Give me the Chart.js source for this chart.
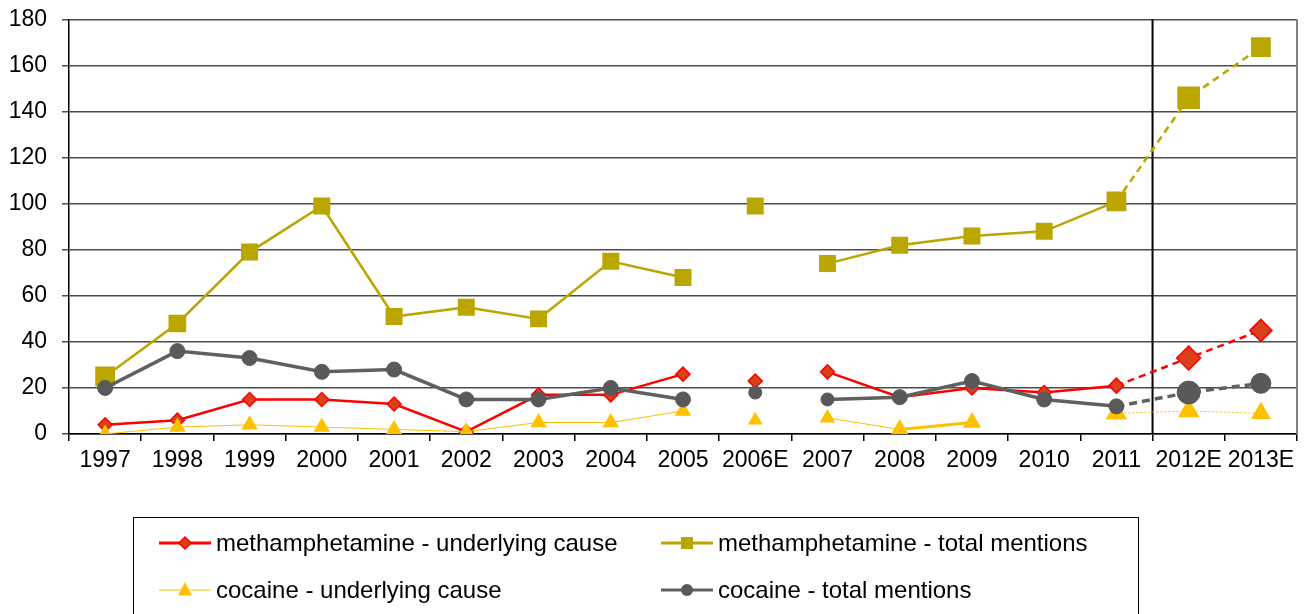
<!DOCTYPE html>
<html>
<head>
<meta charset="utf-8">
<script src="https://cdn.jsdelivr.net/npm/chart.js@4.4.1/dist/chart.umd.min.js"></script>
<style>
  html, body { margin: 0; padding: 0; background: #fff; }
</style>
</head>
<body>
<canvas id="chart" width="1311" height="614"></canvas>
<script>
const years = ['1997', '1998', '1999', '2000', '2001', '2002', '2003', '2004', '2005',
  '2006E', '2007', '2008', '2009', '2010', '2011', '2012E', '2013E'];

const methCause = [4, 6, 15, 15, 13, 1, 17, 17, 26, 23, 27, 16, 20, 18, 21, 33, 45];
const methTotal = [25, 48, 79, 99, 51, 55, 50, 75, 68, 99, 74, 82, 86, 88, 101, 146, 168];
const cocCause  = [0, 3, 4, 3, 2, 1, 5, 5, 10, 6, 7, 2, 5, null, 9, 10, 9];
const cocTotal  = [20, 36, 33, 27, 28, 15, 15, 20, 15, 18, 15, 16, 23, 15, 12, 18, 22];

const yTicks = [0, 20, 40, 60, 80, 100, 120, 140, 160, 180];

const labels = [
  'methamphetamine - underlying cause',
  'methamphetamine - total mentions',
  'cocaine - underlying cause',
  'cocaine - total mentions'
];

const FONT = '"Liberation Sans", Arial, sans-serif';
const ISOLATED = 9;   // 2006E stands alone
const LAST_ACTUAL = 14; // 2011, estimates after it

// segments: hide the ones touching 2006E, dash the estimates
function seg(dash, extra) {
  return {
    borderColor: c => (c.p0DataIndex === ISOLATED || c.p1DataIndex === ISOLATED) ? 'rgba(0,0,0,0)' : undefined,
    borderDash: c => c.p0DataIndex >= LAST_ACTUAL ? dash : undefined,
    borderWidth: extra
  };
}

const data = {
  labels: years,
  datasets: [
    {
      label: labels[0],
      data: methCause,
      borderColor: '#FF0000',
      borderWidth: 2.5,
      backgroundColor: '#D9411A',
      pointBackgroundColor: '#D9411A',
      pointBorderColor: '#FF0000',
      pointBorderWidth: 1.5,
      pointStyle: 'rectRot',
      pointRadius: [7, 7, 7, 7, 7, 7, 7, 7, 7, 7, 7, 7, 7, 7, 7.5, 12, 11],
      segment: seg([7, 5]),
      order: 3
    },
    {
      label: labels[1],
      data: methTotal,
      borderColor: '#BBA600',
      borderWidth: 2.5,
      backgroundColor: '#BBA600',
      pointBackgroundColor: '#BBA600',
      pointBorderColor: '#BBA600',
      pointBorderWidth: 0,
      pointStyle: 'rect',
      pointRadius: [14, 12.5, 12, 12, 12, 12, 12, 12, 12, 12, 12, 12, 12, 12, 14, 16, 14],
      segment: seg([7, 5]),
      order: 4
    },
    {
      label: labels[2],
      data: cocCause,
      borderColor: '#FFC000',
      borderWidth: 1,
      backgroundColor: '#FFC000',
      pointBackgroundColor: '#FFC000',
      pointBorderColor: '#FFC000',
      pointBorderWidth: 0,
      pointStyle: 'triangle',
      pointRadius: [9.5, 9.5, 9.5, 9.5, 9.5, 9.5, 9.5, 9.5, 9.5, 8.5, 9, 10.5, 10.5, 10.5, 12.5, 12.5, 11.5],
      spanGaps: false,
      segment: seg([2, 2], c => c.p0DataIndex === 11 ? 3 : undefined),
      order: 2
    },
    {
      label: labels[3],
      data: cocTotal,
      borderColor: '#606060',
      borderWidth: 3.5,
      backgroundColor: '#595959',
      pointBackgroundColor: '#595959',
      pointBorderColor: '#595959',
      pointBorderWidth: 1,
      pointStyle: 'circle',
      pointRadius: [7.5, 7.5, 7.5, 7.5, 7.5, 7.5, 7.5, 7.5, 7.5, 6.5, 6.5, 7.5, 7.5, 7.5, 7.5, 11.5, 10],
      segment: seg([8, 5]),
      order: 1
    }
  ]
};

// vertical divider before the estimates and the right border of the plot
const dividerPlugin = {
  id: 'divider',
  beforeDatasetsDraw(chart) {
    const { ctx, chartArea, scales } = chart;
    const x = (scales.x.getPixelForValue(LAST_ACTUAL) + scales.x.getPixelForValue(LAST_ACTUAL + 1)) / 2;
    ctx.save();
    ctx.strokeStyle = '#000';
    ctx.lineWidth = 2;
    ctx.beginPath();
    ctx.moveTo(x, chartArea.top);
    ctx.lineTo(x, chartArea.bottom);
    ctx.stroke();
    ctx.strokeStyle = '#808080';
    ctx.lineWidth = 2;
    ctx.beginPath();
    ctx.moveTo(chartArea.right, chartArea.top);
    ctx.lineTo(chartArea.right, chartArea.bottom);
    ctx.stroke();
    ctx.restore();
  }
};

function marker(ctx, style, x, y, r) {
  ctx.beginPath();
  if (style === 'rectRot') {
    ctx.moveTo(x, y - r); ctx.lineTo(x + r, y); ctx.lineTo(x, y + r); ctx.lineTo(x - r, y);
    ctx.closePath();
  } else if (style === 'rect') {
    ctx.rect(x - r, y - r, 2 * r, 2 * r);
  } else if (style === 'triangle') {
    ctx.moveTo(x, y - r); ctx.lineTo(x + r * 0.87, y + r * 0.7); ctx.lineTo(x - r * 0.87, y + r * 0.7);
    ctx.closePath();
  } else {
    ctx.arc(x, y, r, 0, Math.PI * 2);
  }
}

// boxed two-column legend below the chart
const legendPlugin = {
  id: 'boxLegend',
  afterDraw(chart) {
    const ctx = chart.ctx;
    const spots = [[159, 543], [661, 543], [159, 590], [661, 590]];
    const lineW = [3, 3, 1, 3];
    const sizes = [6, 6, 8, 6];
    ctx.save();
    ctx.strokeStyle = '#000';
    ctx.lineWidth = 1;
    ctx.strokeRect(133.5, 517.5, 1005, 120);
    chart.data.datasets.forEach((ds, i) => {
      const [x, y] = spots[i];
      ctx.strokeStyle = ds.borderColor;
      ctx.lineWidth = lineW[i];
      ctx.beginPath();
      ctx.moveTo(x, y);
      ctx.lineTo(x + 52, y);
      ctx.stroke();
      marker(ctx, ds.pointStyle, x + 26, y, sizes[i]);
      ctx.fillStyle = ds.pointBackgroundColor;
      ctx.fill();
      if (i === 0) {
        ctx.strokeStyle = '#FF0000';
        ctx.lineWidth = 1.5;
        ctx.stroke();
      }
      ctx.fillStyle = '#000';
      ctx.font = '24px ' + FONT;
      ctx.textBaseline = 'middle';
      ctx.textAlign = 'left';
      ctx.fillText(ds.label, x + 57, y + 1);
    });
    ctx.restore();
  }
};

new Chart(document.getElementById('chart'), {
  type: 'line',
  data: data,
  plugins: [dividerPlugin, legendPlugin],
  options: {
    responsive: false,
    animation: false,
    layout: { padding: { left: 0, right: 8, top: 19.5, bottom: 0 } },
    plugins: {
      legend: { display: false },
      tooltip: { enabled: false }
    },
    scales: {
      x: {
        type: 'category',
        offset: true,
        grid: { offset: true, drawOnChartArea: false, tickLength: 7, color: '#000', lineWidth: 1.5 },
        border: { color: '#000', width: 1.5 },
        ticks: {
          color: '#000',
          font: { family: FONT, size: 23 },
          padding: 6,
          maxRotation: 0,
          autoSkip: false
        },
        afterFit: s => { s.height = 180; s.paddingLeft = 0; s.paddingRight = 0; }
      },
      y: {
        min: 0,
        max: 180,
        afterBuildTicks: s => { s.ticks = yTicks.map(v => ({ value: v })); },
        grid: { color: '#4d4d4d', lineWidth: 1.5, tickLength: 7 },
        border: { color: '#000', width: 1.5 },
        ticks: {
          color: '#000',
          font: { family: FONT, size: 23 },
          padding: 15
        },
        afterFit: s => { s.width = 69; s.paddingTop = 0; s.paddingBottom = 0; }
      }
    }
  }
});
</script>
</body>
</html>
